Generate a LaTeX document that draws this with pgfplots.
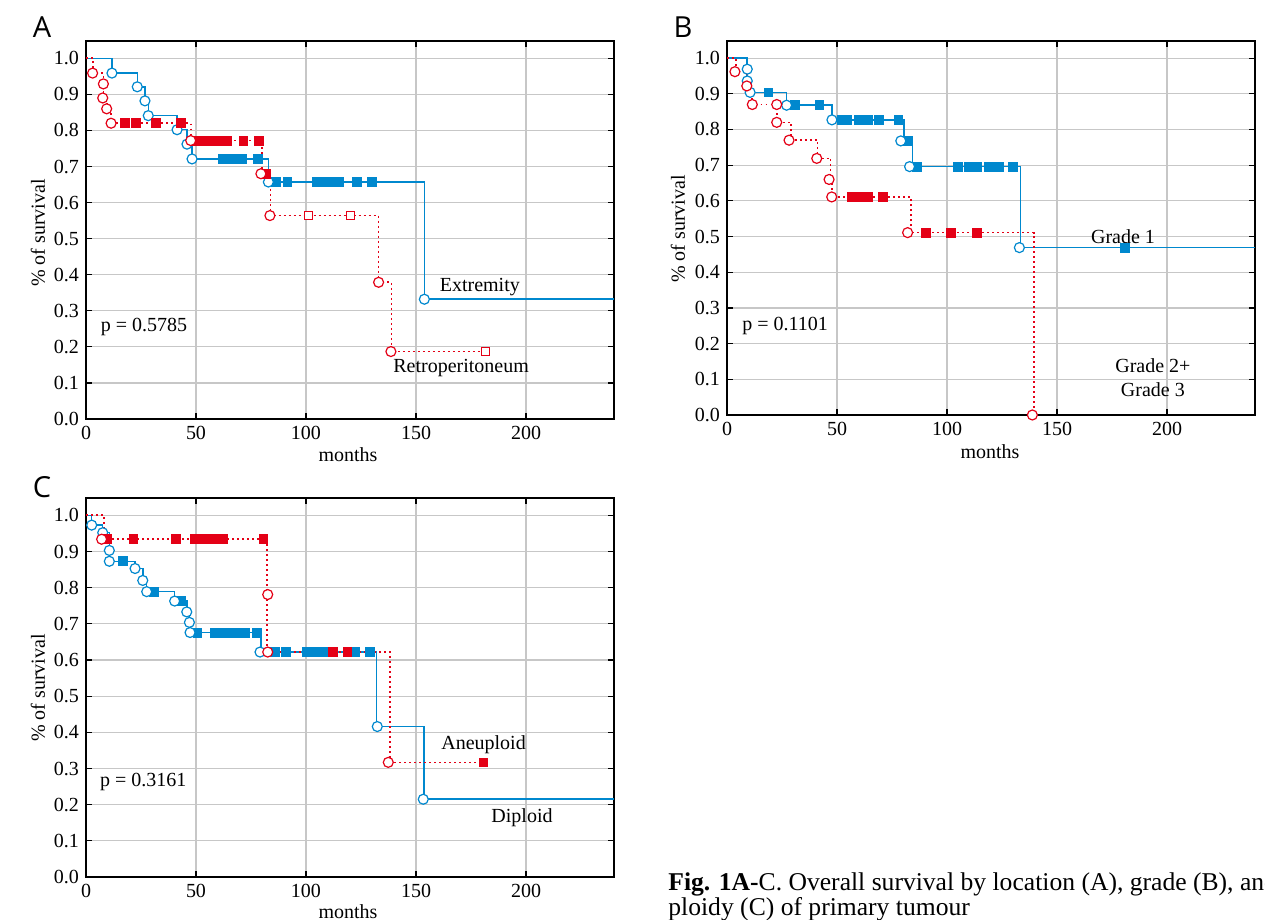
\documentclass[border=0pt]{standalone}
\usepackage{fontspec}
\setmainfont{Liberation Serif}
\newfontfamily\panelfont{Open Sans}
\usepackage{pgfplots}
\pgfplotsset{compat=1.18}

\definecolor{kmblue}{RGB}{0,136,206}
\definecolor{kmred}{RGB}{228,0,22}

\tikzset{lbl/.style={font=\fontsize{10}{12}\selectfont}}

\pgfplotsset{
  km/.style={
    anchor=origin, scale only axis,
    width=264pt, height=189pt,
    xmin=0, xmax=240, ymin=0, ymax=1.048,
    xtick={0,50,100,150,200},
    ytick={0,0.1,0.2,0.3,0.4,0.5,0.6,0.7,0.8,0.9,1.0},
    grid=major, major grid style={draw=black!22, line width=0.6pt},
    axis line style={line width=0.8pt},
    tick align=inside, major tick length=3pt,
    tick style={black, line width=0.6pt},
    ticklabel style={font=\fontsize{10}{12}\selectfont},
    /pgf/number format/assume math mode=true,
    yticklabel style={/pgf/number format/.cd, fixed, fixed zerofill, precision=1},
  },
  stepb/.style={const plot, color=kmblue, line width=0.75pt, mark=none},
  stepr/.style={const plot, color=kmred, line width=0.85pt, dash pattern=on 0.9pt off 1.6pt, mark=none},
  circb/.style={only marks, mark=*, mark size=2.5pt, mark options={draw=kmblue, fill=white, line width=0.6pt, solid}},
  circr/.style={only marks, mark=*, mark size=2.5pt, mark options={draw=kmred, fill=white, line width=0.6pt, solid}},
  sqb/.style={only marks, mark=square*, mark size=2.2pt, mark options={draw=kmblue, fill=kmblue, solid}},
  sqr/.style={only marks, mark=square*, mark size=2.2pt, mark options={draw=kmred, fill=kmred, solid}},
  sqro/.style={only marks, mark=square*, mark size=2.1pt, mark options={draw=kmred, fill=white, line width=0.6pt, solid}},
}

\begin{document}
\begin{tikzpicture}[x=0.5pt, y=0.5pt]
\useasboundingbox (0,0) rectangle (1265,920);
\clip (0,0) rectangle (1265,920);

% ---------- A: location ----------
\begin{axis}[km, at={(43pt,250.5pt)}, height=189pt]
\addplot[stepb] coordinates {(0,1)(11.8,0.959)(23.3,0.921)(26.8,0.882)(28.3,0.841)(41.4,0.802)(45.9,0.762)(48.2,0.721)(82.9,0.657)(153.8,0.332)(240,0.332)};
\addplot[sqb] coordinates {(62,0.721)(65,0.721)(68,0.721)(71,0.721)(78.3,0.721)
  (86.4,0.657)(91.5,0.657)(104.8,0.657)(108.2,0.657)(111.6,0.657)(115,0.657)(123.3,0.657)(129.9,0.657)};
\addplot[circb] coordinates {(11.8,0.959)(23.3,0.921)(26.8,0.882)(28.3,0.841)(41.4,0.802)(45.9,0.762)(48.2,0.721)(82.9,0.657)(153.8,0.332)};
\addplot[stepr] coordinates {(0,1)(3.3,0.959)(7.9,0.929)(7.9,0.890)(9.4,0.860)(11.4,0.820)(47.6,0.772)(80.1,0.680)(83.8,0.564)(133,0.379)(138.8,0.187)(181.5,0.187)};
\addplot[sqr] coordinates {(17.7,0.820)(22.7,0.820)(31.8,0.820)(43.2,0.820)
  (50,0.772)(52.5,0.772)(55,0.772)(57.5,0.772)(60.5,0.772)(64,0.772)(71.5,0.772)(78.6,0.772)(81.8,0.680)};
\addplot[sqro] coordinates {(101.2,0.564)(120.3,0.564)(181.5,0.187)};
\addplot[circr] coordinates {(3.0,0.959)(7.9,0.929)(7.6,0.890)(9.4,0.860)(11.4,0.820)(47.6,0.772)(79.5,0.680)(83.6,0.564)(133,0.379)(138.6,0.187)};
\node[lbl] at (axis cs:179,0.366) {Extremity};
\node[lbl] at (axis cs:170.5,0.141) {Retroperitoneum};
\node[lbl] at (axis cs:26.4,0.255) {p = 0.5785};
\end{axis}

% ---------- B: grade ----------
\begin{axis}[km, at={(363.5pt,252.5pt)}, height=187pt]
\addplot[stepb] coordinates {(0,1)(9.2,0.969)(9.2,0.936)(10.5,0.904)(27.1,0.868)(47.7,0.827)(80.5,0.768)(84.4,0.696)(133.5,0.469)(240,0.469)};
\addplot[sqb] coordinates {(18.8,0.904)(30.9,0.868)(42,0.868)(52.1,0.827)(54.4,0.827)(59.7,0.827)(64.2,0.827)(69,0.827)(77.9,0.827)(82.4,0.768)
  (86.2,0.696)(105.1,0.696)(109.7,0.696)(113.8,0.696)(119.1,0.696)(123.6,0.696)(130.1,0.696)(180.9,0.469)};
\addplot[circb] coordinates {(9.2,0.969)(9.2,0.936)(10.5,0.904)(27.1,0.868)(47.7,0.827)(79.0,0.768)(83.0,0.696)(132.9,0.469)};
\addplot[stepr] coordinates {(0,1)(4.1,0.962)(9.0,0.922)(11.5,0.870)(22.6,0.820)(29,0.770)(41.2,0.719)(47.1,0.660)(47.6,0.611)(83.5,0.511)(139.6,0)};
\addplot[sqr] coordinates {(56.7,0.611)(58.5,0.611)(60.2,0.611)(64.2,0.611)(71,0.611)(90.5,0.511)(101.8,0.511)(113.6,0.511)};
\addplot[circr] coordinates {(3.6,0.962)(9.0,0.922)(11.5,0.870)(22.6,0.870)(22.6,0.820)(28.2,0.770)(40.8,0.719)(46.4,0.660)(47.6,0.611)(82.1,0.511)(138.8,0)};
\node[lbl] at (axis cs:180,0.501) {Grade 1};
\node[lbl, align=center] at (axis cs:193.6,0.104) {Grade 2+\\Grade 3};
\node[lbl] at (axis cs:26.4,0.249) {p = 0.1101};
\end{axis}

% ---------- C: ploidy ----------
\begin{axis}[km, at={(43pt,21.5pt)}, height=189.5pt]
\addplot[stepb] coordinates {(0,1)(2.6,0.973)(7.6,0.952)(10.6,0.903)(10.6,0.873)(22.3,0.853)(25.8,0.820)(27.6,0.789)(40.3,0.763)(45.8,0.733)(47,0.704)(47.3,0.676)(79.5,0.622)(132.1,0.416)(153.6,0.215)(240,0.215)};
\addplot[sqb] coordinates {(16.7,0.873)(30.9,0.789)(43,0.763)(50.6,0.676)(58.6,0.676)(63.2,0.676)(66,0.676)(69,0.676)(72.3,0.676)(77.6,0.676)
  (85.9,0.622)(90.8,0.622)(100.3,0.622)(104.8,0.622)(107.5,0.622)(110.1,0.622)(122.3,0.622)(129.1,0.622)};
\addplot[circb] coordinates {(2.6,0.973)(7.6,0.952)(10.6,0.903)(10.6,0.873)(22.3,0.853)(25.8,0.820)(27.6,0.789)(40.3,0.763)(45.8,0.733)(47,0.704)(47.3,0.676)(79.1,0.622)(132.4,0.416)(153.3,0.215)};
\addplot[stepr] coordinates {(0,1)(8.2,0.934)(82.4,0.781)(82.4,0.622)(138.2,0.317)(180.6,0.317)};
\addplot[sqr] coordinates {(9.7,0.934)(21.5,0.934)(40.9,0.934)(49.5,0.934)(52,0.934)(54.5,0.934)(57,0.934)(58.6,0.934)(62.4,0.934)(80.6,0.934)
  (112.4,0.622)(118.8,0.622)(180.6,0.317)};
\addplot[circr] coordinates {(7.1,0.934)(82.6,0.781)(82.6,0.622)(137.4,0.317)};
\node[lbl] at (axis cs:180.7,0.366) {Aneuploid};
\node[lbl] at (axis cs:198.2,0.163) {Diploid};
\node[lbl] at (axis cs:26,0.263) {p = 0.3161};
\end{axis}

% axis titles and panel letters
\node[lbl, rotate=90] at (38,687) {\% of survival};
\node[lbl, rotate=90] at (678,691) {\% of survival};
\node[lbl, rotate=90] at (38,232) {\% of survival};
\node[lbl] at (348,465) {months};
\node[lbl] at (990,468) {months};
\node[lbl] at (348,8) {months};
\node[font=\panelfont\fontsize{14.5}{16}\selectfont] at (42,893) {A};
\node[font=\panelfont\fontsize{14.5}{16}\selectfont] at (683,893) {B};
\node[font=\panelfont\fontsize{14.5}{16}\selectfont] at (42,433) {C};

% caption (cut by the frame as in the scan)
\node[anchor=base west, inner sep=0pt, font=\fontsize{12.8}{15}\selectfont] at (668,29) {\textbf{Fig. 1A-}C. Overall survival by location (A), grade (B), and};
\node[anchor=base west, inner sep=0pt, font=\fontsize{12.8}{15}\selectfont] at (668,4) {ploidy (C) of primary tumour};
\end{tikzpicture}
\end{document}
